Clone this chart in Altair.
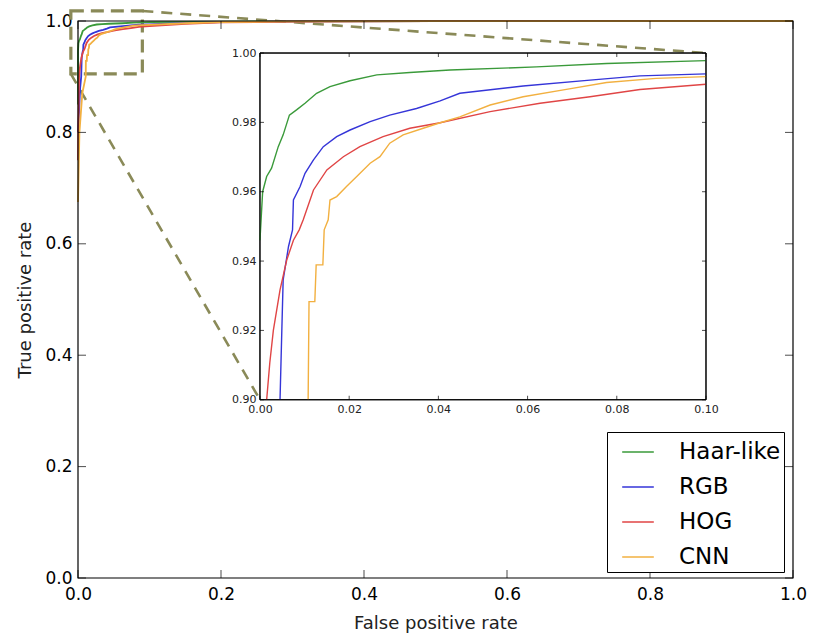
import altair as alt
import pandas as pd

models = ["Haar-like", "RGB", "HOG", "CNN"]
colors = ["#3a9a3a", "#3535d8", "#e04545", "#f2b040"]

haar_fpr = [0, 0, 0.0006, 0.0015, 0.0026, 0.0041, 0.0052, 0.0066, 0.0082, 0.0101, 0.0127, 0.0157,
            0.0202, 0.0262, 0.0336, 0.0426, 0.062, 0.0777, 0.1, 0.15, 0.2, 0.3, 0.5, 1.0]
haar_tpr = [0.85, 0.946, 0.960, 0.9644, 0.9668, 0.973, 0.9764, 0.9821, 0.9836, 0.9855, 0.9884, 0.9903,
            0.992, 0.9937, 0.9944, 0.9951, 0.996, 0.997, 0.9978, 0.9985, 0.999, 0.9995, 1.0, 1.0]

rgb_fpr = [0, 0.003, 0.0045, 0.0049, 0.0052, 0.0064, 0.0073, 0.0075, 0.009, 0.0101, 0.012, 0.0142,
           0.0172, 0.0202, 0.0247, 0.0291, 0.0351, 0.0404, 0.0448, 0.059, 0.074, 0.0852, 0.1,
           0.15, 0.2, 0.3, 0.5, 1.0]
rgb_tpr = [0.80, 0.88, 0.9, 0.920, 0.9346, 0.9442, 0.949, 0.9576, 0.9615, 0.9653, 0.9692, 0.973,
           0.9759, 0.9778, 0.9802, 0.9821, 0.984, 0.9862, 0.9884, 0.9905, 0.9922, 0.9934, 0.994,
           0.9965, 0.998, 0.9992, 0.9998, 1.0]

hog_fpr = [0, 0.001, 0.0015, 0.0022, 0.003, 0.0045, 0.006, 0.0075, 0.0088, 0.0097, 0.012, 0.015,
           0.0187, 0.0224, 0.0276, 0.0336, 0.0404, 0.0516, 0.0628, 0.074, 0.0852, 0.1,
           0.15, 0.2, 0.3, 0.5, 1.0]
hog_tpr = [0.75, 0.86, 0.9, 0.9106, 0.920, 0.9317, 0.9403, 0.946, 0.949, 0.9519, 0.9605, 0.9663,
           0.9701, 0.973, 0.9759, 0.9783, 0.9799, 0.9831, 0.9855, 0.9874, 0.9895, 0.991,
           0.995, 0.9975, 0.999, 0.9998, 1.0]

cnn_fpr = [0, 0.002, 0.006, 0.0108, 0.0110, 0.0123, 0.0126, 0.0141, 0.0144, 0.0153, 0.0157, 0.0172,
           0.0194, 0.0217, 0.0247, 0.0269, 0.0291, 0.0321, 0.0366, 0.0404, 0.0448, 0.0516, 0.059,
           0.0687, 0.0777, 0.0888, 0.1, 0.15, 0.2, 0.3, 0.5, 1.0]
cnn_tpr = [0.675, 0.80, 0.87, 0.9, 0.9283, 0.9283, 0.9389, 0.9389, 0.949, 0.9519, 0.9576, 0.9586,
           0.9615, 0.9644, 0.9682, 0.9701, 0.974, 0.9764, 0.9783, 0.9799, 0.9816, 0.985, 0.9874,
           0.9895, 0.9915, 0.9927, 0.9932, 0.996, 0.998, 0.9992, 0.9998, 1.0]

main_ticks = [0.0, 0.2, 0.4, 0.6, 0.8, 1.0]
inset_x_ticks = [0.0, 0.02, 0.04, 0.06, 0.08, 0.10]
inset_y_ticks = [0.90, 0.92, 0.94, 0.96, 0.98, 1.00]
inset_x_dom = [0.0, 0.1]
inset_y_dom = [0.9, 1.0]

# zoom box (main data coords) and inset placement (main axes fraction)
zoom_x = [-0.01, 0.09]
zoom_y = [0.905, 1.018]
inset_fx = [0.2545, 0.8783]
inset_fy = [0.320, 0.9425]

W, H = 715, 557
FONT = "DejaVu Sans"
OLIVE = "#8a8a58"

rows = []
for name, fx, ty in [("Haar-like", haar_fpr, haar_tpr), ("RGB", rgb_fpr, rgb_tpr),
                     ("HOG", hog_fpr, hog_tpr), ("CNN", cnn_fpr, cnn_tpr)]:
    for i, (a, b) in enumerate(zip(fx, ty)):
        rows.append({"model": name, "fpr": a, "tpr": b, "order": i})
df = pd.DataFrame(rows)
df_inset = df[(df.fpr <= inset_x_dom[1]) & (df.tpr >= inset_y_dom[0])]

legend = alt.Legend(title=None, orient="none", legendX=529, legendY=411, direction="vertical",
                    fillColor="white", strokeColor="black", padding=3, rowPadding=6,
                    labelFontSize=23, labelFont=FONT, labelColor="black", labelOffset=24,
                    symbolOffset=11, symbolType="stroke", symbolSize=1000, symbolStrokeWidth=1.5,
                    labelLimit=300)
color = alt.Color("model:N", scale=alt.Scale(domain=models, range=colors), legend=legend)


def xs():
    return alt.Scale(domain=[0, 1], nice=False, zero=False)


def ys():
    return alt.Scale(domain=[0, 1], nice=False, zero=False)


main_lines = alt.Chart(df).mark_line(strokeWidth=1.8).encode(
    x=alt.X("fpr:Q", scale=xs(), axis=alt.Axis(values=main_ticks, format=".1f", ticks=False, domain=False,
                                               grid=False, title="False positive rate", labelPadding=8,
                                               titlePadding=12, labelFontSize=17, titleFontSize=18,
                                               labelFlush=False, orient="bottom")),
    y=alt.Y("tpr:Q", scale=ys(), axis=alt.Axis(values=main_ticks, format=".1f", ticks=False, domain=False,
                                               grid=False, title="True positive rate", labelPadding=6,
                                               titlePadding=10, labelFontSize=17, titleFontSize=18,
                                               labelFlush=False, orient="left")),
    color=color,
    order="order:Q",
)

box_df = pd.DataFrame({"x": [zoom_x[0]], "x2": [zoom_x[1]], "y": [zoom_y[0]], "y2": [zoom_y[1]]})
zoom_box = alt.Chart(box_df).mark_rect(filled=False, stroke=OLIVE, strokeWidth=3.2,
                                       strokeDash=[13, 7]).encode(
    x=alt.X("x:Q", scale=xs(), axis=None), x2="x2:Q",
    y=alt.Y("y:Q", scale=ys(), axis=None), y2="y2:Q")

conn_df = pd.DataFrame({"x": [zoom_x[1], zoom_x[0]], "y": [zoom_y[1], zoom_y[0]],
                        "x2": [inset_fx[1], inset_fx[0]], "y2": [inset_fy[1], inset_fy[0]]})
connectors = alt.Chart(conn_df).mark_rule(stroke=OLIVE, strokeWidth=2.6, strokeDash=[11, 8]).encode(
    x=alt.X("x:Q", scale=xs(), axis=None), x2="x2:Q",
    y=alt.Y("y:Q", scale=ys(), axis=None), y2="y2:Q")

main_frame = alt.Chart(pd.DataFrame({"a": [0]})).mark_rect(filled=False, stroke="black",
                                                           strokeWidth=1.2).encode(
    x=alt.X(datum=0, scale=xs(), axis=None), x2=alt.X2(datum=1),
    y=alt.Y(datum=0, scale=ys(), axis=None), y2=alt.Y2(datum=1))

mt = pd.DataFrame({"v": main_ticks})
TK = 8


def vt(chart_df, scale_x, scale_y, ydatum, off, size):
    return alt.Chart(chart_df).mark_tick(orient="vertical", size=size, thickness=1, color="black",
                                         yOffset=off).encode(
        x=alt.X("v:Q", scale=scale_x, axis=None), y=alt.Y(datum=ydatum, scale=scale_y, axis=None))


def ht(chart_df, scale_x, scale_y, xdatum, off, size):
    return alt.Chart(chart_df).mark_tick(orient="horizontal", size=size, thickness=1, color="black",
                                         xOffset=off).encode(
        y=alt.Y("v:Q", scale=scale_y, axis=None), x=alt.X(datum=xdatum, scale=scale_x, axis=None))


# inset scales
xr = [inset_fx[0] * W, inset_fx[1] * W]
yr = [H * (1 - inset_fy[0]), H * (1 - inset_fy[1])]


def xi():
    return alt.Scale(domain=inset_x_dom, range=xr, nice=False, zero=False)


def yi():
    return alt.Scale(domain=inset_y_dom, range=yr, nice=False, zero=False)


frame_df = pd.DataFrame({"x": [inset_x_dom[0]], "x2": [inset_x_dom[1]],
                         "y": [inset_y_dom[0]], "y2": [inset_y_dom[1]]})
inset_bg = alt.Chart(frame_df).mark_rect(fill="white", stroke="black", strokeWidth=1).encode(
    x=alt.X("x:Q", scale=xi(), axis=alt.Axis(values=inset_x_ticks, format=".2f", orient="bottom",
                                             offset=-(H - yr[0]), ticks=False, domain=False, grid=False,
                                             title=None, labelFontSize=11, labelPadding=4,
                                             labelColor="#222", labelFlush=False)),
    x2="x2:Q",
    y=alt.Y("y:Q", scale=yi(), axis=alt.Axis(values=inset_y_ticks, format=".2f", orient="left",
                                             offset=-xr[0], ticks=False, domain=False, grid=False,
                                             title=None, labelFontSize=11, labelPadding=4,
                                             labelColor="#222", labelFlush=False)),
    y2="y2:Q")

inset_lines = alt.Chart(df_inset).mark_line(strokeWidth=1.4).encode(
    x=alt.X("fpr:Q", scale=xi(), axis=None),
    y=alt.Y("tpr:Q", scale=yi(), axis=None),
    color=color,
    order="order:Q",
)

inset_frame = alt.Chart(frame_df).mark_rect(filled=False, stroke="black", strokeWidth=1).encode(
    x=alt.X("x:Q", scale=xi(), axis=None), x2="x2:Q",
    y=alt.Y("y:Q", scale=yi(), axis=None), y2="y2:Q")

ixt = pd.DataFrame({"v": inset_x_ticks})
iyt = pd.DataFrame({"v": inset_y_ticks})
TI = 4

layers = [
    zoom_box, connectors, main_lines, main_frame,
    vt(mt, xs(), ys(), 0, -TK / 2, TK), vt(mt, xs(), ys(), 1, TK / 2, TK),
    ht(mt, xs(), ys(), 0, TK / 2, TK), ht(mt, xs(), ys(), 1, -TK / 2, TK),
    inset_bg, inset_lines, inset_frame,
    vt(ixt, xi(), yi(), 0.9, -TI / 2, TI), vt(ixt, xi(), yi(), 1.0, TI / 2, TI),
    ht(iyt, xi(), yi(), 0.0, TI / 2, TI), ht(iyt, xi(), yi(), 0.1, -TI / 2, TI),
]

chart = alt.layer(*layers).resolve_scale(
    x="independent", y="independent"
).properties(
    width=W, height=H,
    padding={"left": 70, "top": 13, "right": 15, "bottom": 60},
    autosize=alt.AutoSizeParams(type="none"),
).configure_view(stroke=None).configure_axis(
    labelFont=FONT, titleFont=FONT, labelColor="black", titleColor="#222", titleFontWeight="normal"
).configure_legend(labelFont=FONT)

chart.save("out.html", embed_options={"renderer": "svg", "actions": False})
